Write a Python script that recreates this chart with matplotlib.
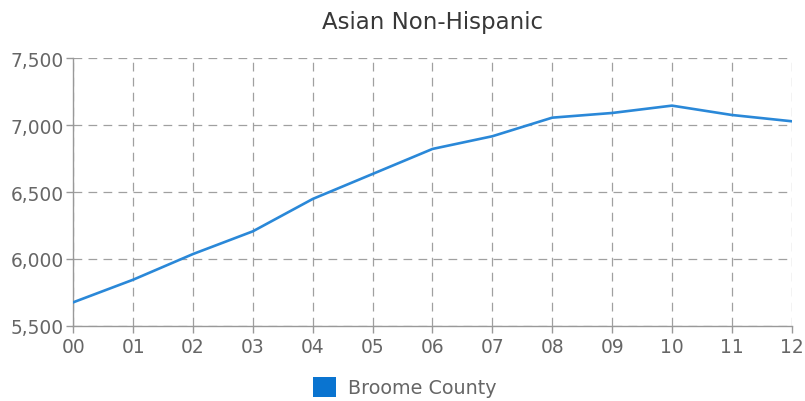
import matplotlib
matplotlib.use("Agg")
import matplotlib.pyplot as plt
from matplotlib.patches import Patch

years = ["00", "01", "02", "03", "04", "05", "06", "07", "08", "09", "10", "11", "12"]
values = [5675, 5844, 6036, 6206, 6448, 6635, 6822, 6917, 7056, 7091, 7146, 7076, 7029]
yticks = [5500, 6000, 6500, 7000, 7500]
title = "Asian Non-Hispanic"
series_name = "Broome County"

plt.rcParams['font.family'] = ['DejaVu Sans']

fig = plt.figure(figsize=(8.05, 4.02), dpi=100)
ax = fig.add_axes([0.091, 0.1873, 0.8925, 0.6652])

x = list(range(len(years)))
ax.plot(x, values, color='#2a88d8', linewidth=1.9, solid_joinstyle='round', zorder=3)

ax.set_xlim(0, len(years) - 1)
ax.set_ylim(5500, 7500)
ax.set_xticks(x)
ax.set_xticklabels(years)
ax.set_yticks(yticks)
ax.set_yticklabels([f"{v:,}" for v in yticks])

ax.grid(True, color='#a0a0a0', linestyle=(0, (7, 5)), linewidth=0.9)
for s in ['top', 'right']:
    ax.spines[s].set_visible(False)
for s in ['left', 'bottom']:
    ax.spines[s].set_color('#999999')
    ax.spines[s].set_linewidth(1.0)

ax.tick_params(axis='both', colors='#999999', labelcolor='#666666', labelsize=13.4, length=5, width=1.0)
ax.tick_params(axis='y', pad=2)
ax.tick_params(axis='x', pad=3)

fig.text(0.5375, 1 - 22 / 402, title, ha='center', va='center', fontsize=16.5, color='#383838')

handle = Patch(facecolor='#0a74d0', edgecolor='none')
fig.legend([handle], [series_name], loc='center', bbox_to_anchor=(0.503, 1 - 388 / 402),
           frameon=False, fontsize=13.8, labelcolor='#666666', handlelength=1.2, handleheight=1.2,
           handletextpad=0.6)

fig.savefig("out.png", dpi=100)
